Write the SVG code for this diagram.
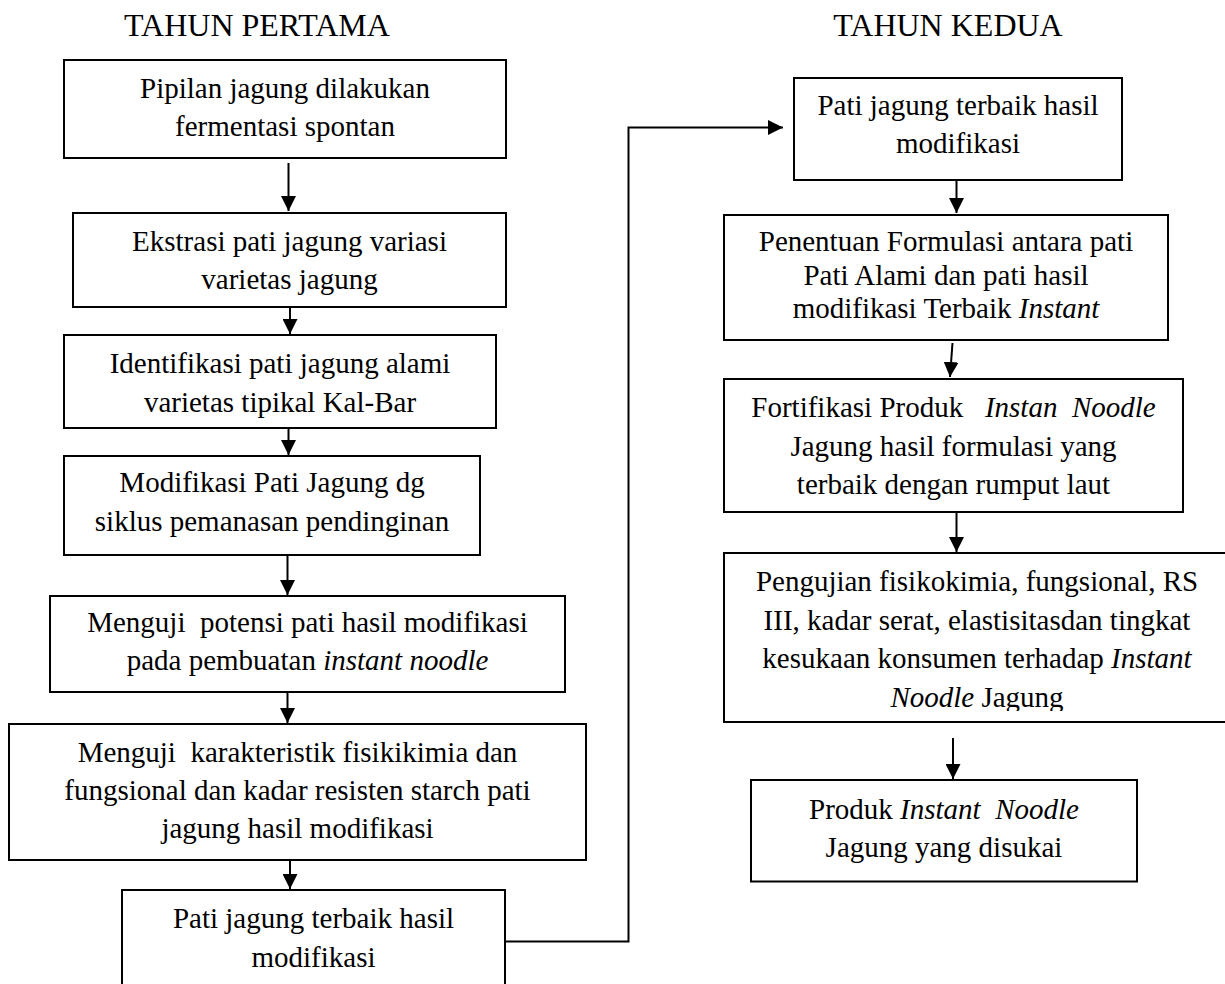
<svg xmlns="http://www.w3.org/2000/svg" width="1225" height="984" viewBox="0 0 1225 984">
  <style>
    .box { fill: #ffffff; stroke: #000000; stroke-width: 2; }
    .t { font-family: "Liberation Serif", "Times New Roman", serif; font-size: 29px; fill: #000000; text-anchor: middle; }
    .title { font-family: "Liberation Serif", "Times New Roman", serif; font-size: 32px; fill: #000000; text-anchor: middle; }
    .i { font-style: italic; }
    .wire { fill: none; stroke: #000000; stroke-width: 2; }
  </style>
  <defs>
    <marker id="arrow" viewBox="0 0 15 15" refX="15" refY="7.5" markerWidth="15" markerHeight="15" markerUnits="userSpaceOnUse" orient="auto">
      <path d="M0,0 L15,7.5 L0,15 Z" fill="#000000"/>
    </marker>
    <clipPath id="clip-r4">
      <rect x="724" y="553" width="501" height="158"/>
    </clipPath>
  </defs>
  <rect width="1225" height="984" fill="#ffffff"/>

  <!-- column headings -->
  <text class="title" x="257" y="36">TAHUN PERTAMA</text>
  <text class="title" x="948" y="36">TAHUN KEDUA</text>

  <!-- connectors -->
  <g id="connectors">
    <line class="wire" x1="288.5" y1="163" x2="288.5" y2="211" marker-end="url(#arrow)"/>
    <line class="wire" x1="290" y1="307" x2="290" y2="334" marker-end="url(#arrow)"/>
    <line class="wire" x1="288.5" y1="428" x2="288.5" y2="455" marker-end="url(#arrow)"/>
    <line class="wire" x1="287.5" y1="555" x2="287.5" y2="595" marker-end="url(#arrow)"/>
    <line class="wire" x1="287.5" y1="692" x2="287.5" y2="723" marker-end="url(#arrow)"/>
    <line class="wire" x1="290" y1="860" x2="290" y2="889" marker-end="url(#arrow)"/>
    <polyline class="wire" points="505,941.5 628.5,941.5 628.5,127.5 783,127.5" marker-end="url(#arrow)"/>
    <line class="wire" x1="956.5" y1="180" x2="956.5" y2="213" marker-end="url(#arrow)"/>
    <line class="wire" x1="952.5" y1="343" x2="950" y2="377" marker-end="url(#arrow)"/>
    <line class="wire" x1="956.5" y1="512" x2="956.5" y2="552" marker-end="url(#arrow)"/>
    <line class="wire" x1="953" y1="738" x2="953" y2="779" marker-end="url(#arrow)"/>
  </g>

  <!-- first-year steps -->
  <g id="n1">
    <rect class="box" x="64" y="60" width="442" height="98"/>
    <text class="t" x="285" y="98">Pipilan jagung dilakukan</text>
    <text class="t" x="285" y="136">fermentasi spontan</text>
  </g>
  <g id="n2">
    <rect class="box" x="73" y="213" width="433" height="94"/>
    <text class="t" x="289.5" y="251">Ekstrasi pati jagung variasi</text>
    <text class="t" x="289.5" y="289">varietas jagung</text>
  </g>
  <g id="n3">
    <rect class="box" x="64" y="335" width="432" height="93"/>
    <text class="t" x="280" y="373">Identifikasi pati jagung alami</text>
    <text class="t" x="280" y="411.5">varietas tipikal Kal-Bar</text>
  </g>
  <g id="n4">
    <rect class="box" x="64" y="456" width="416" height="99"/>
    <text class="t" x="272" y="492">Modifikasi Pati Jagung dg</text>
    <text class="t" x="272" y="530.5">siklus pemanasan pendinginan</text>
  </g>
  <g id="n5">
    <rect class="box" x="50" y="596" width="515" height="96"/>
    <text class="t" x="307.5" y="632" xml:space="preserve">Menguji  potensi pati hasil modifikasi</text>
    <text class="t" x="307.5" y="670">pada pembuatan <tspan class="i">instant noodle</tspan></text>
  </g>
  <g id="n6">
    <rect class="box" x="9" y="724" width="577" height="136"/>
    <text class="t" x="297.5" y="762" xml:space="preserve">Menguji  karakteristik fisikikimia dan</text>
    <text class="t" x="297.5" y="800">fungsional dan kadar resisten starch pati</text>
    <text class="t" x="297.5" y="838">jagung hasil modifikasi</text>
  </g>
  <g id="n7">
    <rect class="box" x="122" y="890" width="383" height="100"/>
    <text class="t" x="313.5" y="928">Pati jagung terbaik hasil</text>
    <text class="t" x="313.5" y="966.5">modifikasi</text>
  </g>

  <!-- second-year steps -->
  <g id="r1">
    <rect class="box" x="794" y="78" width="328" height="102"/>
    <text class="t" x="958" y="115">Pati jagung terbaik hasil</text>
    <text class="t" x="958" y="153">modifikasi</text>
  </g>
  <g id="r2">
    <rect class="box" x="724" y="215" width="444" height="125"/>
    <text class="t" x="946" y="251">Penentuan Formulasi antara pati</text>
    <text class="t" x="946" y="284.5">Pati Alami dan pati hasil</text>
    <text class="t" x="946" y="318">modifikasi Terbaik <tspan class="i">Instant</tspan></text>
  </g>
  <g id="r3">
    <rect class="box" x="724" y="379" width="459" height="133"/>
    <text class="t" x="953.5" y="417" xml:space="preserve">Fortifikasi Produk   <tspan class="i">Instan  Noodle</tspan></text>
    <text class="t" x="953.5" y="455.5">Jagung hasil formulasi yang</text>
    <text class="t" x="953.5" y="494">terbaik dengan rumput laut</text>
  </g>
  <g id="r4">
    <rect class="box" x="724" y="553" width="510" height="169"/>
    <g clip-path="url(#clip-r4)">
      <text class="t" x="977" y="591">Pengujian fisikokimia, fungsional, RS</text>
      <text class="t" x="977" y="629.5">III, kadar serat, elastisitasdan tingkat</text>
      <text class="t" x="977" y="668">kesukaan konsumen terhadap <tspan class="i">Instant</tspan></text>
      <text class="t" x="977" y="706.5"><tspan class="i">Noodle</tspan> Jagung</text>
    </g>
  </g>
  <g id="r5">
    <rect class="box" x="751" y="780" width="386" height="101.5"/>
    <text class="t" x="944" y="818.5" xml:space="preserve">Produk <tspan class="i">Instant  Noodle</tspan></text>
    <text class="t" x="944" y="857">Jagung yang disukai</text>
  </g>
</svg>
